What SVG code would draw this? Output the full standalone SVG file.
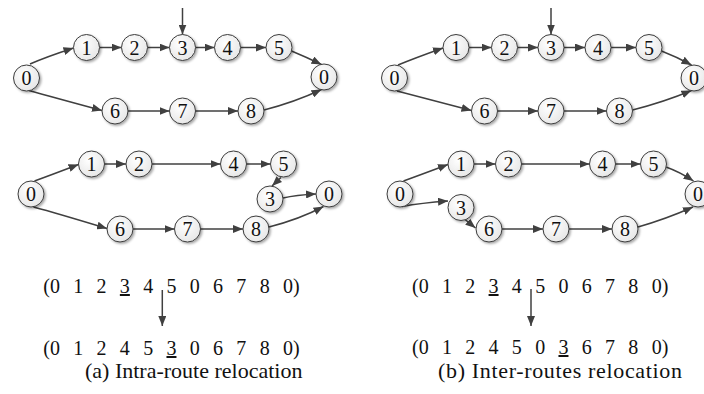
<svg xmlns="http://www.w3.org/2000/svg" width="704" height="394" viewBox="0 0 704 394">
  <defs>
    <radialGradient id="nodeFill" cx="0.4" cy="0.35" r="0.7">
      <stop offset="0" stop-color="#ffffff"/>
      <stop offset="1" stop-color="#e6e6e6"/>
    </radialGradient>
    <filter id="shadow" x="-30%" y="-30%" width="170%" height="170%">
      <feDropShadow dx="1.5" dy="1.5" stdDeviation="1" flood-color="#000" flood-opacity="0.35"/>
    </filter>
    <marker id="arrow" viewBox="0 0 10 8" refX="10" refY="4" markerWidth="10" markerHeight="8" markerUnits="userSpaceOnUse" orient="auto">
      <path d="M0,0 L10,4 L0,8 Z" fill="#404040"/>
    </marker>
    <style>
      .node circle { fill: url(#nodeFill); stroke: #3c3c3c; stroke-width: 1; filter: url(#shadow); }
      .node text { font-family: "Liberation Serif", "Times New Roman", serif; font-size: 20px; fill: #111; text-anchor: middle; dominant-baseline: central; }
      .edges path, path.edge { fill: none; stroke: #404040; stroke-width: 1.5; marker-end: url(#arrow); }
      .seq { font-family: "Liberation Serif", "Times New Roman", serif; font-size: 20px; fill: #111; word-spacing: 8.3px; }
      .cap { font-family: "Liberation Serif", "Times New Roman", serif; font-size: 22px; fill: #111; }
    </style>
  </defs>

  <!-- connectors -->
  <g id="connectors" class="edges">
    <!-- (a) upper routes -->
    <path d="M182.5,8 L182.5,34.5"/>
    <path d="M30,64 Q46,57 73.5,48"/>
    <path d="M29,90.5 Q52,97 102,110.5"/>
    <path d="M99.5,47.5 L121.5,47.5"/>
    <path d="M147.5,47.5 L169.5,47.5"/>
    <path d="M195.5,47.5 L214.5,47.5"/>
    <path d="M240.5,47.5 L266,47.5"/>
    <path d="M291.5,51 Q306,57 321.5,64.5"/>
    <path d="M128,111 L169.5,111"/>
    <path d="M195.5,111 L238,111"/>
    <path d="M264,110 Q295,102 321.5,89.5"/>
    <!-- (a) lower routes -->
    <path d="M34.5,181 Q51,175 78.5,164.5"/>
    <path d="M33.5,207 Q56,213 107,228.5"/>
    <path d="M104.5,164 L126,164"/>
    <path d="M152,164 L220.5,164"/>
    <path d="M246.5,164 L270.5,164"/>
    <path d="M281,177.5 L272,186"/>
    <path d="M283,198 Q296,195 316,194"/>
    <path d="M133,229 L174.5,229"/>
    <path d="M200.5,229 L243,229"/>
    <path d="M269,227 Q300,219 323.5,206.5"/>
    <!-- (b) upper routes -->
    <path d="M551,8 L551,34.5"/>
    <path d="M398,65 Q415,58 443,48"/>
    <path d="M397,91 Q420,97 471.5,110.5"/>
    <path d="M469,47.5 L491.5,47.5"/>
    <path d="M517.5,47.5 L538,47.5"/>
    <path d="M564,47.5 L585,47.5"/>
    <path d="M611,47.5 L636,47.5"/>
    <path d="M661.5,51 Q677,57 691.5,65"/>
    <path d="M497.5,111 L538,111"/>
    <path d="M564,111 L606.5,111"/>
    <path d="M632.5,110 Q664,102 691.5,90.5"/>
    <!-- (b) lower routes -->
    <path d="M403.5,181 Q420,175 448,164.5"/>
    <path d="M402,206.5 Q421,203 448,201"/>
    <path d="M465,219.5 L475.5,228"/>
    <path d="M474,164 L495.5,164"/>
    <path d="M521.5,164 L589.5,164"/>
    <path d="M615.5,164 L640.5,164"/>
    <path d="M666,167 Q680,172 693.5,181"/>
    <path d="M502,229 L543,229"/>
    <path d="M569,229 L612,229"/>
    <path d="M638,227 Q666,219 693,207"/>
  </g>

  <!-- (a) upper routes: nodes -->
  <g id="a-top-0s" class="node"><circle cx="26.5" cy="78" r="13"/><text x="26.5" y="78">0</text></g>
  <g id="a-top-1" class="node"><circle cx="86.5" cy="47.5" r="13"/><text x="86.5" y="47.5">1</text></g>
  <g id="a-top-2" class="node"><circle cx="134.5" cy="47.5" r="13"/><text x="134.5" y="47.5">2</text></g>
  <g id="a-top-3" class="node"><circle cx="182.5" cy="47.5" r="13"/><text x="182.5" y="47.5">3</text></g>
  <g id="a-top-4" class="node"><circle cx="227.5" cy="47.5" r="13"/><text x="227.5" y="47.5">4</text></g>
  <g id="a-top-5" class="node"><circle cx="279" cy="47.5" r="13"/><text x="279" y="47.5">5</text></g>
  <g id="a-top-0e" class="node"><circle cx="324" cy="77" r="13"/><text x="324" y="77">0</text></g>
  <g id="a-top-6" class="node"><circle cx="115" cy="111" r="13"/><text x="115" y="111">6</text></g>
  <g id="a-top-7" class="node"><circle cx="182.5" cy="111" r="13"/><text x="182.5" y="111">7</text></g>
  <g id="a-top-8" class="node"><circle cx="251" cy="111" r="13"/><text x="251" y="111">8</text></g>

  <!-- (a) lower routes: nodes -->
  <g id="a-bot-0s" class="node"><circle cx="31" cy="194" r="13"/><text x="31" y="194">0</text></g>
  <g id="a-bot-1" class="node"><circle cx="91.5" cy="164" r="13"/><text x="91.5" y="164">1</text></g>
  <g id="a-bot-2" class="node"><circle cx="139" cy="164" r="13"/><text x="139" y="164">2</text></g>
  <g id="a-bot-4" class="node"><circle cx="233.5" cy="164" r="13"/><text x="233.5" y="164">4</text></g>
  <g id="a-bot-5" class="node"><circle cx="283.5" cy="164" r="13"/><text x="283.5" y="164">5</text></g>
  <g id="a-bot-3" class="node"><circle cx="270" cy="199" r="13"/><text x="270" y="199">3</text></g>
  <g id="a-bot-0e" class="node"><circle cx="329" cy="194" r="13"/><text x="329" y="194">0</text></g>
  <g id="a-bot-6" class="node"><circle cx="120" cy="229" r="13"/><text x="120" y="229">6</text></g>
  <g id="a-bot-7" class="node"><circle cx="187.5" cy="229" r="13"/><text x="187.5" y="229">7</text></g>
  <g id="a-bot-8" class="node"><circle cx="256" cy="229" r="13"/><text x="256" y="229">8</text></g>

  <!-- (b) upper routes: nodes -->
  <g id="b-top-0s" class="node"><circle cx="394.5" cy="78" r="13"/><text x="394.5" y="78">0</text></g>
  <g id="b-top-1" class="node"><circle cx="456" cy="47.5" r="13"/><text x="456" y="47.5">1</text></g>
  <g id="b-top-2" class="node"><circle cx="504.5" cy="47.5" r="13"/><text x="504.5" y="47.5">2</text></g>
  <g id="b-top-3" class="node"><circle cx="551" cy="47.5" r="13"/><text x="551" y="47.5">3</text></g>
  <g id="b-top-4" class="node"><circle cx="598" cy="47.5" r="13"/><text x="598" y="47.5">4</text></g>
  <g id="b-top-5" class="node"><circle cx="649" cy="47.5" r="13"/><text x="649" y="47.5">5</text></g>
  <g id="b-top-0e" class="node"><circle cx="694" cy="78" r="13"/><text x="694" y="78">0</text></g>
  <g id="b-top-6" class="node"><circle cx="484.5" cy="111" r="13"/><text x="484.5" y="111">6</text></g>
  <g id="b-top-7" class="node"><circle cx="551" cy="111" r="13"/><text x="551" y="111">7</text></g>
  <g id="b-top-8" class="node"><circle cx="619.5" cy="111" r="13"/><text x="619.5" y="111">8</text></g>

  <!-- (b) lower routes: nodes -->
  <g id="b-bot-0s" class="node"><circle cx="400" cy="194" r="13"/><text x="400" y="194">0</text></g>
  <g id="b-bot-1" class="node"><circle cx="461" cy="164" r="13"/><text x="461" y="164">1</text></g>
  <g id="b-bot-2" class="node"><circle cx="508.5" cy="164" r="13"/><text x="508.5" y="164">2</text></g>
  <g id="b-bot-4" class="node"><circle cx="602.5" cy="164" r="13"/><text x="602.5" y="164">4</text></g>
  <g id="b-bot-5" class="node"><circle cx="653.5" cy="164" r="13"/><text x="653.5" y="164">5</text></g>
  <g id="b-bot-0e" class="node"><circle cx="698" cy="194" r="13"/><text x="698" y="194">0</text></g>
  <g id="b-bot-3" class="node"><circle cx="461" cy="207.5" r="13"/><text x="461" y="207.5">3</text></g>
  <g id="b-bot-6" class="node"><circle cx="489" cy="229" r="13"/><text x="489" y="229">6</text></g>
  <g id="b-bot-7" class="node"><circle cx="556" cy="229" r="13"/><text x="556" y="229">7</text></g>
  <g id="b-bot-8" class="node"><circle cx="625" cy="229" r="13"/><text x="625" y="229">8</text></g>

  <!-- sequence encodings -->
  <g id="seq-a">
    <text class="seq" x="43.3" y="293">(0 1 2 <tspan text-decoration="underline">3</tspan> 4 5 0 6 7 8 0)</text>
    <path class="edge" d="M162.3,290 L162.3,326"/>
    <text class="seq" x="43.3" y="355">(0 1 2 4 5 <tspan text-decoration="underline">3</tspan> 0 6 7 8 0)</text>
    <text class="cap" x="85" y="378">(a) Intra-route relocation</text>
  </g>
  <g id="seq-b">
    <text class="seq" x="412" y="293">(0 1 2 <tspan text-decoration="underline">3</tspan> 4 5 0 6 7 8 0)</text>
    <path class="edge" d="M531,289 L531,326"/>
    <text class="seq" x="412" y="354">(0 1 2 4 5 0 <tspan text-decoration="underline">3</tspan> 6 7 8 0)</text>
    <text class="cap" x="438" y="378" textLength="244" lengthAdjust="spacing">(b) Inter-routes relocation</text>
  </g>
</svg>
